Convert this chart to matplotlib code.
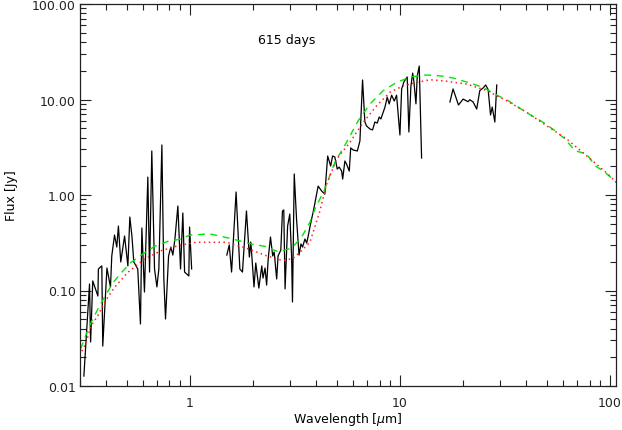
import matplotlib
matplotlib.use("Agg")
import matplotlib.pyplot as plt
from matplotlib.ticker import FixedLocator, FuncFormatter, LogLocator, NullFormatter

# observed spectrum, three separate pieces (wavelength in micron, flux in Jy)
wave_opt = [0.313, 0.333, 0.337, 0.345, 0.365, 0.367, 0.381, 0.385, 0.403, 0.419,
            0.425, 0.438, 0.449, 0.457, 0.469, 0.489, 0.507, 0.518, 0.530, 0.541,
            0.565, 0.582, 0.591, 0.608, 0.631, 0.643, 0.659, 0.679, 0.697, 0.712,
            0.736, 0.752, 0.766, 0.792, 0.812, 0.830, 0.849, 0.877, 0.903, 0.926,
            0.944, 0.989, 0.997, 1.02]
flux_opt = [0.0127, 0.117, 0.0289, 0.126, 0.0875, 0.168, 0.181, 0.0262, 0.172, 0.109,
            0.230, 0.381, 0.285, 0.473, 0.199, 0.372, 0.181, 0.588, 0.372, 0.199,
            0.168, 0.0446, 0.451, 0.0964, 1.54, 0.156, 2.89, 0.168, 0.109, 0.168,
            3.34, 0.132, 0.0503, 0.230, 0.285, 0.235, 0.346, 0.767, 0.168, 0.648,
            0.156, 0.142, 0.462, 0.168]

wave_ir = [1.50, 1.54, 1.58, 1.66, 1.73, 1.78, 1.86, 1.92, 1.95, 1.97,
           2.02, 2.06, 2.13, 2.20, 2.23, 2.28, 2.32, 2.36, 2.42, 2.48,
           2.52, 2.59, 2.63, 2.71, 2.76, 2.80, 2.84, 2.92, 2.99, 3.05,
           3.08, 3.14, 3.22, 3.31, 3.38, 3.44, 3.53, 3.60, 3.66, 3.73,
           3.80, 3.89, 4.08, 4.24, 4.39, 4.53, 4.68, 4.78, 4.90, 5.03,
           5.14, 5.28, 5.34, 5.47, 5.57, 5.74, 5.83, 5.99, 6.27, 6.45,
           6.64, 6.81, 6.94, 7.20, 7.41, 7.60, 7.80, 7.97, 8.12, 8.27,
           8.49, 8.70, 8.89, 9.13, 9.40, 9.64, 10.0, 10.19, 10.45, 10.83,
           11.03, 11.28, 11.5, 11.66, 11.92, 12.09, 12.36, 12.68]
flux_ir = [0.235, 0.300, 0.156, 1.075, 0.168, 0.156, 0.680, 0.224, 0.322, 0.241,
           0.109, 0.194, 0.106, 0.181, 0.135, 0.172, 0.114, 0.214, 0.363, 0.230,
           0.253, 0.132, 0.230, 0.265, 0.680, 0.697, 0.104, 0.473, 0.632, 0.230,
           0.0758, 1.66, 0.561, 0.235, 0.307, 0.285, 0.346, 0.314, 0.372, 0.462,
           0.561, 0.713, 1.24, 1.10, 1.02, 2.56, 2.01, 2.56, 2.50, 1.87,
           1.96, 1.78, 1.47, 2.27, 2.11, 1.78, 3.11, 2.96, 2.89, 3.68,
           16.0, 5.81, 5.28, 4.91, 4.80, 5.81, 5.67, 6.56, 6.25, 7.05,
           8.34, 10.6, 8.97, 11.1, 9.64, 11.1, 4.25, 12.9, 15.3, 17.2,
           4.57, 13.8, 18.9, 15.3, 9.0, 17.6, 22.4, 2.44]

wave_mir = [17.3, 17.9, 19.0, 20.0, 21.1, 21.5, 22.3, 23.2, 24.0, 24.9,
            25.6, 26.3, 27.0, 27.5, 28.3, 28.9]
flux_mir = [9.42, 12.9, 8.76, 10.1, 9.48, 9.95, 9.42, 7.95, 12.4, 13.2,
            14.2, 12.7, 6.88, 8.34, 5.81, 14.2]

# model curves
wave_green = [0.302, 0.317, 0.339, 0.365, 0.392, 0.430, 0.471, 0.525, 0.597, 0.679,
              0.786, 0.909, 1.0, 1.245, 1.551, 1.966, 2.275, 2.633, 3.05, 3.40,
              3.73, 3.94, 4.39, 4.90, 5.57, 6.33, 7.20, 8.33, 9.64, 11.16,
              12.91, 15.5, 17.9, 21.5, 24.9, 28.9, 32.8, 37.3, 42.4, 48.1,
              54.7, 61.1, 68.1, 77.4, 84.8, 94.7, 107]
flux_green = [0.0244, 0.0324, 0.0465, 0.064, 0.0849, 0.120, 0.153, 0.197, 0.241, 0.290,
              0.327, 0.346, 0.381, 0.391, 0.352, 0.307, 0.290, 0.255, 0.277, 0.361,
              0.518, 0.714, 1.156, 2.20, 3.56, 6.00, 8.97, 12.4, 15.1, 17.1,
              18.1, 17.7, 16.8, 14.9, 13.4, 11.1, 9.71, 8.09, 6.77, 5.77,
              4.71, 3.86, 2.91, 2.69, 2.03, 1.73, 1.36]

wave_red = [0.299, 0.321, 0.339, 0.365, 0.392, 0.438, 0.507, 0.609, 0.730, 0.877,
            1.071, 1.496, 1.862, 2.318, 2.781, 3.10, 3.34, 3.73, 4.16, 4.48,
            5.00, 5.78, 6.69, 7.75, 8.96, 10.37, 12.01, 13.9, 16.08, 20.8,
            25.9, 32.2, 40.1, 49.9, 62.2, 77.4, 96.5, 107]
flux_red = [0.0208, 0.0287, 0.0428, 0.0545, 0.0752, 0.108, 0.155, 0.214, 0.261, 0.294,
            0.320, 0.320, 0.277, 0.231, 0.205, 0.217, 0.251, 0.320, 0.680, 1.30,
            2.38, 3.56, 5.77, 8.61, 11.9, 13.9, 15.1, 16.1, 15.7, 14.5,
            12.4, 9.71, 7.34, 5.32, 3.86, 2.58, 1.70, 1.36]

y_ticks = [0.01, 0.1, 1, 10, 100]
x_ticks = [1, 10, 100]


def main():
    fig = plt.figure(figsize=(6.22, 4.31), dpi=100)
    ax = fig.add_axes([80 / 622, 44 / 431, 536 / 622, 382 / 431])

    for w, f in [(wave_opt, flux_opt), (wave_ir, flux_ir), (wave_mir, flux_mir)]:
        ax.plot(w, f, color='black', lw=0.9)
    ax.plot(wave_green, flux_green, color='#00e600', lw=1.0, dashes=(5, 4))
    ax.plot(wave_red, flux_red, color='#ff2020', lw=1.1, dashes=(1, 2.2))

    ax.set_xscale('log')
    ax.set_yscale('log')
    ax.set_xlim(0.3, 106.8)
    ax.set_ylim(0.01, 100)

    ax.yaxis.set_major_locator(FixedLocator(y_ticks))
    ax.yaxis.set_major_formatter(FuncFormatter(lambda v, p: '%.2f' % v))
    ax.yaxis.set_minor_locator(LogLocator(base=10, subs=range(2, 10)))
    ax.yaxis.set_minor_formatter(NullFormatter())
    ax.xaxis.set_major_locator(FixedLocator(x_ticks))
    ax.xaxis.set_major_formatter(FuncFormatter(lambda v, p: '%d' % v))
    ax.xaxis.set_minor_locator(LogLocator(base=10, subs=range(2, 10)))
    ax.xaxis.set_minor_formatter(NullFormatter())

    ax.tick_params(which='both', direction='in', top=True, right=True,
                   labelsize=9, colors='#222222', width=0.8)
    ax.tick_params(which='major', length=8)
    ax.tick_params(which='minor', length=4)
    ax.tick_params(axis='x', pad=7)
    ax.tick_params(axis='y', pad=3)
    for s in ax.spines.values():
        s.set_color('#222222')
        s.set_linewidth(0.9)

    ax.set_xlabel(r'Wavelength [$\mu$m]', fontsize=9, labelpad=1)
    ax.set_ylabel('Flux [Jy]', fontsize=9, labelpad=10)
    ax.text(0.332, 0.908, '615 days', transform=ax.transAxes, fontsize=9,
            ha='left', va='center')

    fig.savefig('out.png', dpi=100)
    plt.close(fig)


if __name__ == "__main__":
    main()
